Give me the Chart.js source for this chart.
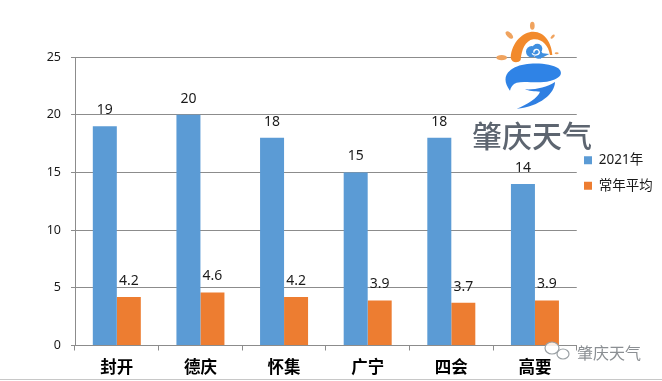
<!DOCTYPE html>
<html><head><meta charset="utf-8">
<script src="https://cdn.jsdelivr.net/npm/chart.js@4/dist/chart.umd.min.js"></script>
<style>
html,body{margin:0;padding:0;background:#fff;overflow:hidden}
#wrap{position:relative;width:662px;height:381px}
#wrap canvas{position:absolute;left:0;top:0}
.ov{position:absolute;white-space:nowrap;font-family:"Noto Sans CJK SC",sans-serif}
#mark{left:472px;top:114px;font-size:30px;line-height:40px;font-weight:500;color:#5d6570}
#wm{left:577px;top:341px;font-size:16px;line-height:22px;color:#8b8f93;text-shadow:0 0 2px #fff}
#rule{left:0;top:379px;width:662px;height:1px;background:#c8c8c8}
svg{position:absolute;left:0;top:0}
</style></head><body>
<div id="wrap">
<canvas id="c" width="662" height="381"></canvas>
<div id="rule" class="ov"></div>
<svg width="662" height="381" viewBox="0 0 662 381">
  <g transform="translate(460 10) scale(0.3333)">
    <g fill="#f0a35e">
      <ellipse cx="217" cy="47" rx="7" ry="12"/>
      <ellipse cx="148" cy="75" rx="7" ry="14" transform="rotate(-45 148 75)"/>
      <ellipse cx="125" cy="143" rx="16" ry="8"/>
      <ellipse cx="278" cy="80" rx="4" ry="8" transform="rotate(45 278 80)"/>
      <ellipse cx="290" cy="130" rx="6" ry="3"/>
    </g>
    <path d="M152 143C155 95 190 65 220 65C255 65 275 100 277 135L270 135C265 105 245 85 220 88C195 92 185 120 182 150C175 160 155 160 152 143Z" fill="#f28a2c"/>
    <g fill="#3f8fe0">
      <circle cx="215" cy="125" r="17"/><circle cx="232" cy="116" r="15"/><circle cx="236" cy="134" r="12"/>
      <path d="M236 128L268 132L240 146Z"/>
    </g>
    <path d="M222 128a8 8 0 1 1 10 6a14 14 0 0 1-16-4" fill="none" stroke="#fff" stroke-width="4"/>
    <path d="M150 242C130 215 130 190 165 172C200 155 270 158 295 175C312 190 300 205 270 213C235 222 195 212 170 218C158 222 152 232 150 242Z" fill="#2f83e6"/>
    <path d="M195 238C225 240 260 232 285 216C285 250 240 290 170 296C200 285 235 262 240 245C225 245 205 243 195 238Z" fill="#2f7fe2"/>
  </g>
  <g fill="#fff" fill-opacity="0.85" stroke="#9aa0a4" stroke-width="1.2">
    <ellipse cx="552" cy="348" rx="7" ry="6"/><ellipse cx="563" cy="354" rx="6" ry="5"/>
  </g>
</svg>
<div id="mark" class="ov">肇庆天气</div>
<div id="wm" class="ov">肇庆天气</div>
</div>
<script>
const categories = ['封开','德庆','怀集','广宁','四会','高要'];
const series2021 = [19,20,18,15,18,14];
const seriesNormal = [4.2,4.6,4.2,3.9,3.7,3.9];
const seriesNames = ['2021年','常年平均'];
const seriesColors = ['#5b9bd5','#ed7d31'];
const yTicks = [0,5,10,15,20,25];
const ink = '#1a1a1a', rule = '#8c8c8c';
const sans = '"Noto Sans","Noto Sans CJK SC",sans-serif';

const barLabels = {
  id:'barLabels',
  afterDatasetsDraw(chart){
    const ctx = chart.ctx;
    ctx.save();
    ctx.font = '14px '+sans;
    ctx.fillStyle = ink;
    ctx.textAlign = 'center';
    ctx.textBaseline = 'middle';
    chart.data.datasets.forEach((ds,i)=>{
      chart.getDatasetMeta(i).data.forEach((bar,j)=>{
        ctx.fillText(String(ds.data[j]), bar.x, bar.y-16);
      });
    });
    ctx.restore();
  }
};

const legendPlace = {
  id:'legendPlace',
  afterLayout(chart){
    const lg = chart.legend;
    const pad = lg.options.labels.padding;
    const h = lg.bottom - lg.top;
    lg.left = 584 - pad;
    lg.right = lg.left + lg.width;
    lg.top = 173 - h/2;
    lg.bottom = lg.top + h;
  }
};

new Chart(document.getElementById('c'),{
  type:'bar',
  data:{labels:categories,datasets:[
    {label:seriesNames[0],data:series2021,backgroundColor:seriesColors[0]},
    {label:seriesNames[1],data:seriesNormal,backgroundColor:seriesColors[1]}
  ]},
  plugins:[barLabels,legendPlace],
  options:{
    responsive:false,animation:false,
    layout:{padding:{top:57,left:0,right:-5.5,bottom:0}},
    datasets:{bar:{categoryPercentage:0.574,barPercentage:1}},
    plugins:{
      tooltip:{enabled:false},
      legend:{position:'right',align:'center',
        labels:{boxWidth:8,boxHeight:8,padding:12,color:ink,font:{family:sans,size:13.5}}}
    },
    scales:{
      x:{
        afterFit(s){s.height=35.5},
        grid:{display:true,drawOnChartArea:false,color:rule,tickLength:5,offset:true},
        border:{color:rule},
        ticks:{color:'#000',padding:6,maxRotation:0,font:{family:'"Noto Sans CJK SC",sans-serif',size:16.5,weight:'700'}}
      },
      y:{
        min:0,max:25,
        afterBuildTicks(s){s.ticks=yTicks.map(v=>({value:v}))},
        afterFit(s){s.width=75},
        grid:{color:rule,tickLength:4},
        border:{color:rule},
        ticks:{color:ink,padding:10,font:{family:sans,size:12.5}}
      }
    }
  }
});
</script>
</body></html>
